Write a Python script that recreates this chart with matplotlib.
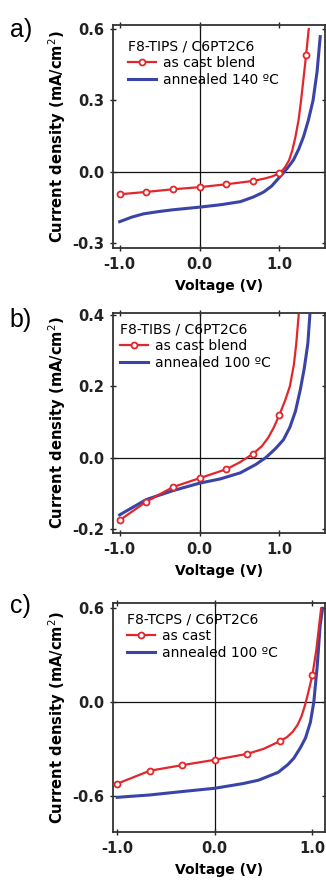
import numpy as np
import matplotlib.pyplot as plt
from matplotlib.lines import Line2D

plt.switch_backend('agg')

RED = '#e3262b'
BLUE = '#3a44a6'

# panel a) F8-TIPS / C6PT2C6
a_red_v = [-1.0, -0.667, -0.333, 0.0, 0.333, 0.667, 0.8, 0.9, 1.0, 1.02, 1.07, 1.12, 1.16, 1.20, 1.24, 1.27, 1.30, 1.333, 1.366]
a_red_j = [-0.094, -0.084, -0.073, -0.064, -0.052, -0.038, -0.029, -0.020, -0.006, 0.0, 0.02, 0.049, 0.09, 0.147, 0.22, 0.30, 0.39, 0.49, 0.60]
a_mk_v = [-1.0, -0.667, -0.333, 0.0, 0.333, 0.667, 1.0, 1.333]
a_mk_j = [-0.094, -0.084, -0.073, -0.064, -0.052, -0.038, -0.006, 0.49]
a_blue_v = [-1.0, -0.85, -0.7, -0.5, -0.333, 0.0, 0.26, 0.51, 0.675, 0.8, 0.9, 0.98, 1.06, 1.12, 1.175, 1.24, 1.30, 1.36, 1.42, 1.47, 1.51]
a_blue_j = [-0.209, -0.190, -0.176, -0.166, -0.159, -0.148, -0.138, -0.125, -0.105, -0.085, -0.060, -0.030, 0.0, 0.025, 0.05, 0.095, 0.147, 0.215, 0.30, 0.42, 0.568]

# panel b) F8-TIBS / C6PT2C6
b_red_v = [-1.0, -0.667, -0.333, 0.0, 0.333, 0.5, 0.667, 0.78, 0.86, 0.93, 1.0, 1.07, 1.13, 1.18, 1.21, 1.24]
b_red_j = [-0.176, -0.124, -0.083, -0.058, -0.033, -0.014, 0.010, 0.032, 0.056, 0.085, 0.12, 0.16, 0.20, 0.26, 0.32, 0.40]
b_mk_v = [-1.0, -0.667, -0.333, 0.0, 0.333, 0.667, 1.0]
b_mk_j = [-0.176, -0.124, -0.083, -0.058, -0.033, 0.010, 0.12]
b_blue_v = [-1.0, -0.667, -0.333, 0.0, 0.26, 0.51, 0.7, 0.83, 0.95, 1.05, 1.13, 1.2, 1.26, 1.31, 1.355, 1.38]
b_blue_j = [-0.161, -0.118, -0.093, -0.072, -0.060, -0.043, -0.020, 0.0, 0.025, 0.05, 0.085, 0.13, 0.19, 0.25, 0.32, 0.40]

# panel c) F8-TCPS / C6PT2C6
c_red_v = [-1.0, -0.667, -0.333, 0.0, 0.333, 0.5, 0.667, 0.74, 0.80, 0.85, 0.89, 0.925, 0.95, 1.0, 1.04, 1.09]
c_red_j = [-0.523, -0.44, -0.404, -0.37, -0.332, -0.30, -0.251, -0.225, -0.19, -0.145, -0.09, -0.02, 0.04, 0.17, 0.33, 0.60]
c_mk_v = [-1.0, -0.667, -0.333, 0.0, 0.333, 0.667, 1.0]
c_mk_j = [-0.523, -0.44, -0.404, -0.37, -0.332, -0.251, 0.17]
c_blue_v = [-1.0, -0.667, -0.333, 0.0, 0.29, 0.45, 0.65, 0.75, 0.81, 0.88, 0.93, 0.98, 1.015, 1.05, 1.08, 1.105]
c_blue_j = [-0.61, -0.595, -0.573, -0.552, -0.522, -0.50, -0.45, -0.40, -0.36, -0.29, -0.23, -0.13, 0.0, 0.23, 0.49, 0.60]

panels = [
    dict(tag='a)', title='F8-TIPS / C6PT2C6', red_lab='as cast blend', blue_lab='annealed 140 ºC',
         red=(a_red_v, a_red_j), mk=(a_mk_v, a_mk_j), blue=(a_blue_v, a_blue_j),
         xlim=(-1.08, 1.57), ylim=(-0.321, 0.617), yt=[-0.3, 0.0, 0.3, 0.6],
         rect=[0.3475, 0.7197, 0.6495, 0.2521], leg=(0.069, 0.935), tagy=0.98),
    dict(tag='b)', title='F8-TIBS / C6PT2C6', red_lab='as cast blend', blue_lab='annealed 100 ºC',
         red=(b_red_v, b_red_j), mk=(b_mk_v, b_mk_j), blue=(b_blue_v, b_blue_j),
         xlim=(-1.08, 1.57), ylim=(-0.211, 0.405), yt=[-0.2, 0.0, 0.2, 0.4],
         rect=[0.3475, 0.3988, 0.6495, 0.2476], leg=(0.032, 0.96), tagy=0.652),
    dict(tag='c)', title='F8-TCPS / C6PT2C6', red_lab='as cast', blue_lab='annealed 100 ºC',
         red=(c_red_v, c_red_j), mk=(c_mk_v, c_mk_j), blue=(c_blue_v, c_blue_j),
         xlim=(-1.04, 1.13), ylim=(-0.83, 0.632), yt=[-0.6, 0.0, 0.6],
         rect=[0.3475, 0.0613, 0.6495, 0.2578], leg=(0.065, 0.96), tagy=0.33),
]

fig = plt.figure(figsize=(3.26, 8.86), dpi=100)

for p in panels:
    ax = fig.add_axes(p['rect'])
    ax.axhline(0, color='#111111', lw=0.9, zorder=1)
    ax.axvline(0, color='#111111', lw=0.9, zorder=1)
    ax.plot(*p['blue'], color=BLUE, lw=2.2, zorder=2, solid_joinstyle='round')
    ax.plot(*p['red'], color=RED, lw=1.6, zorder=3, solid_joinstyle='round')
    ax.plot(*p['mk'], ls='none', marker='o', ms=4.3, mfc='white', mec=RED, mew=1.3, zorder=4)
    ax.set_xlim(*p['xlim'])
    ax.set_ylim(*p['ylim'])
    ax.set_xticks([-1.0, 0.0, 1.0])
    ax.set_yticks(p['yt'])
    ax.xaxis.set_major_formatter(plt.FormatStrFormatter('%.1f'))
    ax.yaxis.set_major_formatter(plt.FormatStrFormatter('%.1f'))
    ax.tick_params(direction='inout', length=5, width=1.0, top=True, right=True,
                   labelsize=10.5, pad=4, colors='#222222')
    for lab in ax.get_xticklabels() + ax.get_yticklabels():
        lab.set_fontweight('bold')
    for s in ax.spines.values():
        s.set_linewidth(1.3)
        s.set_color('#333333')
    ax.set_xlabel('Voltage (V)', fontsize=10, fontweight='bold', labelpad=5)
    ax.set_ylabel('Current density (mA/cm$^{2}$)', fontsize=10.6, fontweight='bold', labelpad=3)

    handles = [Line2D([], [], color=RED, lw=1.6, marker='o', ms=4.3, mfc='white', mec=RED, mew=1.3),
               Line2D([], [], color=BLUE, lw=2.2)]
    leg = ax.legend(handles, [p['red_lab'], p['blue_lab']], title=p['title'], loc='upper left',
                    bbox_to_anchor=p['leg'], frameon=False, alignment='left', fontsize=10,
                    title_fontsize=10, handlelength=2.0, handletextpad=0.5, labelspacing=0.2,
                    borderpad=0, borderaxespad=0, numpoints=1)
    fig.text(0.03, p['tagy'], p['tag'], fontsize=18, family='Liberation Sans', va='top')

fig.savefig('out.png', dpi=100)
